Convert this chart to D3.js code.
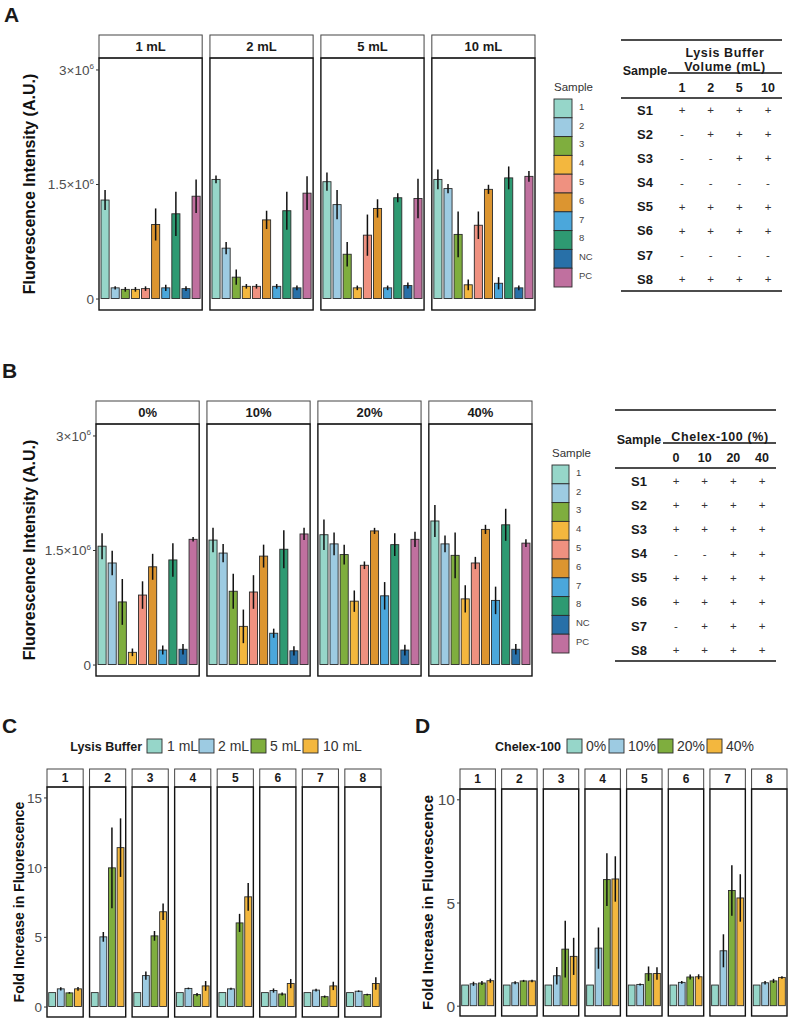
<!DOCTYPE html>
<html>
<head>
<meta charset="utf-8">
<style>
  body { margin: 0; background: #fff; }
  text { font-family: "Liberation Sans", Arial, sans-serif; }
</style>
</head>
<body>
<script src="https://cdn.jsdelivr.net/npm/d3@7"></script>
<script>
// ---- data ----
var samples = ['1', '2', '3', '4', '5', '6', '7', '8', 'NC', 'PC'];
var sampleColors = ['#96d6c9', '#9dcbe2', '#7fae3e', '#f3b73e', '#ef9180', '#dc9530', '#4ba7db', '#2e9a72', '#2870a8', '#c0709f'];

// panel A: fluorescence (x10^6) by lysis buffer volume
var volumes = ['1 mL', '2 mL', '5 mL', '10 mL'];
var volumeMeans = [
  [1.29, 0.14, 0.12, 0.12, 0.13, 0.97, 0.14, 1.11, 0.13, 1.34],
  [1.56, 0.66, 0.28, 0.16, 0.16, 1.03, 0.16, 1.15, 0.14, 1.38],
  [1.53, 1.23, 0.58, 0.14, 0.83, 1.18, 0.14, 1.32, 0.17, 1.31],
  [1.56, 1.44, 0.84, 0.18, 0.96, 1.43, 0.20, 1.58, 0.14, 1.60]
];
var volumeSds = [
  [0.13, 0.02, 0.03, 0.03, 0.03, 0.21, 0.04, 0.29, 0.03, 0.22],
  [0.05, 0.08, 0.10, 0.03, 0.03, 0.12, 0.03, 0.25, 0.03, 0.22],
  [0.12, 0.19, 0.16, 0.03, 0.27, 0.12, 0.03, 0.06, 0.04, 0.26],
  [0.13, 0.06, 0.30, 0.07, 0.18, 0.06, 0.08, 0.15, 0.03, 0.07]
];

// panel B: fluorescence (x10^6) by Chelex-100 concentration
var chelex = ['0%', '10%', '20%', '40%'];
var chelexMeans = [
  [1.55, 1.33, 0.82, 0.16, 0.91, 1.28, 0.19, 1.37, 0.20, 1.64],
  [1.63, 1.46, 0.96, 0.50, 0.95, 1.42, 0.41, 1.51, 0.18, 1.71],
  [1.70, 1.58, 1.44, 0.83, 1.30, 1.75, 0.90, 1.57, 0.19, 1.64],
  [1.88, 1.58, 1.43, 0.86, 1.33, 1.77, 0.84, 1.83, 0.20, 1.59]
];
var chelexSds = [
  [0.17, 0.16, 0.30, 0.05, 0.18, 0.17, 0.06, 0.22, 0.07, 0.03],
  [0.16, 0.12, 0.23, 0.22, 0.22, 0.15, 0.06, 0.25, 0.06, 0.08],
  [0.20, 0.15, 0.13, 0.14, 0.05, 0.04, 0.18, 0.15, 0.07, 0.10],
  [0.21, 0.11, 0.30, 0.18, 0.08, 0.06, 0.18, 0.21, 0.07, 0.05]
];
var fluorTicks = [0, 1.5, 3];
var fluorTickLabels = ['0', '1.5×10|6', '3×10|6'];

// panel C: fold increase per sample, by lysis buffer volume
var foldSamples = ['1', '2', '3', '4', '5', '6', '7', '8'];
var lysisFold = [
  [1, 1.27, 0.98, 1.27],
  [1, 5.00, 9.95, 11.4],
  [1, 2.22, 5.07, 6.80],
  [1, 1.30, 0.86, 1.48],
  [1, 1.27, 6.00, 7.87],
  [1, 1.15, 0.90, 1.65],
  [1, 1.18, 0.71, 1.48],
  [1, 1.10, 0.86, 1.65]
];
var lysisFoldSd = [
  [0, 0.12, 0.06, 0.13],
  [0, 0.35, 2.90, 2.10],
  [0, 0.30, 0.35, 0.60],
  [0, 0.06, 0.12, 0.35],
  [0, 0.07, 0.65, 1.00],
  [0, 0.15, 0.10, 0.33],
  [0, 0.10, 0.08, 0.30],
  [0, 0.06, 0.06, 0.45]
];

// panel D: fold increase per sample, by Chelex-100 concentration
var chelexFold = [
  [1, 1.06, 1.10, 1.21],
  [1, 1.11, 1.20, 1.20],
  [1, 1.45, 2.74, 2.39],
  [1, 2.79, 6.11, 6.14],
  [1, 1.03, 1.55, 1.56],
  [1, 1.13, 1.39, 1.40],
  [1, 2.66, 5.58, 5.22],
  [1, 1.11, 1.20, 1.37]
];
var chelexFoldSd = [
  [0, 0.10, 0.10, 0.10],
  [0, 0.07, 0.05, 0.06],
  [0, 0.42, 1.37, 0.90],
  [0, 1.00, 1.28, 1.10],
  [0, 0.05, 0.35, 0.30],
  [0, 0.07, 0.12, 0.12],
  [0, 0.80, 1.22, 1.15],
  [0, 0.08, 0.10, 0.06]
];

// tables
var tableRows = ['S1', 'S2', 'S3', 'S4', 'S5', 'S6', 'S7', 'S8'];
var volumeCols = ['1', '2', '5', '10'];
var volumeTable = ['++++', '-+++', '--++', '----', '++++', '++++', '----', '++++'];
var chelexCols = ['0', '10', '20', '40'];
var chelexTable = ['++++', '++++', '++++', '--++', '++++', '++++', '-+++', '++++'];

// ---- drawing ----
var svg = d3.select('body').append('svg')
  .attr('width', 788).attr('height', 1018);

function facetChart(o) {
  var fx = d3.scaleBand().domain(o.facets).range(o.xRange).paddingInner(o.pad);
  var y = d3.scaleLinear().domain(o.yDomain).range([o.panelBottom, o.stripBottom]);
  var n = o.cats.length;

  o.facets.forEach(function (f, i) {
    var g = svg.append('g').attr('transform', `translate(${fx(f)},0)`);
    var x = d3.scaleLinear().domain([0.4, n + 0.6]).range([0, fx.bandwidth()]);

    g.append('rect')
      .attr('x', 0).attr('y', o.stripTop)
      .attr('width', fx.bandwidth()).attr('height', o.stripBottom - o.stripTop)
      .attr('fill', '#fff').attr('stroke', '#444').attr('stroke-width', 1);
    g.append('text')
      .attr('x', fx.bandwidth() / 2).attr('y', (o.stripTop + o.stripBottom) / 2)
      .attr('dy', '0.36em').attr('text-anchor', 'middle')
      .attr('font-size', o.stripFont).attr('font-weight', 'bold').attr('fill', '#1a1a1a')
      .text(f);

    var rows = o.cats.map(function (c, j) {
      return { c: c, j: j, m: o.means[i][j], s: o.sds[i][j] };
    });

    g.selectAll('rect.bar').data(rows).enter().append('rect')
      .attr('class', 'bar')
      .attr('x', d => x(d.j + 0.6))
      .attr('width', x(1.8) - x(1))
      .attr('y', d => y(d.m))
      .attr('height', d => y(0) - y(d.m))
      .attr('fill', d => o.colors[d.j])
      .attr('stroke', '#2b2b2b').attr('stroke-width', 0.9);

    g.selectAll('line.err').data(rows.filter(d => d.s > 0)).enter().append('line')
      .attr('class', 'err')
      .attr('x1', d => x(d.j + 1)).attr('x2', d => x(d.j + 1))
      .attr('y1', d => y(d.m + d.s)).attr('y2', d => y(d.m - d.s))
      .attr('stroke', '#111').attr('stroke-width', 1.5);

    g.append('rect')
      .attr('x', 0).attr('y', o.stripBottom)
      .attr('width', fx.bandwidth()).attr('height', o.panelBottom - o.stripBottom)
      .attr('fill', 'none').attr('stroke', '#111').attr('stroke-width', 1.4);

    if (i === 0) {
      var ax = g.append('g')
        .call(d3.axisLeft(y).tickValues(o.ticks).tickSize(3).tickPadding(2).tickFormat(''));
      ax.select('.domain').remove();
      ax.selectAll('.tick line').attr('stroke', '#333');
      ax.selectAll('.tick').each(function (d, k) {
        var parts = o.tickLabels[k].split('|');
        var t = d3.select(this).append('text')
          .attr('x', -5).attr('dy', '0.36em').attr('text-anchor', 'end')
          .attr('font-size', o.tickFont).attr('fill', '#4d4d4d')
          .text(parts[0]);
        if (parts[1]) {
          t.append('tspan').attr('dy', -o.tickFont * 0.4).attr('font-size', o.tickFont * 0.6).text(parts[1]);
        }
      });
    }
  });

  svg.append('text')
    .attr('transform', `translate(${o.labelX},${(o.stripBottom + o.panelBottom) / 2}) rotate(-90)`)
    .attr('text-anchor', 'middle').attr('dy', '0.36em')
    .attr('font-size', o.labelFont).attr('font-weight', 'bold').attr('fill', '#111')
    .text(o.yLabel);
}

function sampleLegend(x, top, step, w) {
  svg.append('text').attr('x', x).attr('y', top - 8)
    .attr('font-size', 11.5).attr('fill', '#333').text('Sample');
  var ly = d3.scaleBand().domain(samples).range([top, top + step * samples.length]);
  var g = svg.append('g');
  g.selectAll('rect').data(samples).enter().append('rect')
    .attr('x', x).attr('y', d => ly(d))
    .attr('width', w).attr('height', ly.bandwidth())
    .attr('fill', (d, i) => sampleColors[i]).attr('stroke', '#2b2b2b').attr('stroke-width', 0.9);
  g.selectAll('text').data(samples).enter().append('text')
    .attr('x', x + w + 7).attr('y', d => ly(d) + ly.bandwidth() / 2 - 2)
    .attr('dy', '0.36em').attr('font-size', 9.5).attr('fill', '#444').text(d => d);
}

function flatLegend(title, titleEnd, y, items, keyXs, labelXs) {
  svg.append('text').attr('x', titleEnd).attr('y', y).attr('dy', '0.36em')
    .attr('text-anchor', 'end').attr('font-size', 12.5).attr('font-weight', 'bold')
    .attr('fill', '#1a1a1a').text(title);
  items.forEach(function (it, i) {
    svg.append('rect').attr('x', keyXs[i]).attr('y', y - 7).attr('width', 15).attr('height', 14)
      .attr('fill', sampleColors[i]).attr('stroke', '#2b2b2b').attr('stroke-width', 0.9);
    svg.append('text').attr('x', labelXs[i]).attr('y', y).attr('dy', '0.36em')
      .attr('font-size', 14).attr('fill', '#333').text(it);
  });
}

function table(o) {
  var g = svg.append('g');
  var cx = d3.scalePoint().domain(o.cols).range(o.colRange);
  var ry = d3.scalePoint().domain(tableRows).range(o.rowRange);
  var line = (x1, x2, yy) => g.append('line').attr('x1', x1).attr('x2', x2)
    .attr('y1', yy).attr('y2', yy).attr('stroke', '#111').attr('stroke-width', 1.6);
  line(o.left, o.right, o.topY);
  line(o.groupLeft, o.right, o.groupLine);
  line(o.left, o.right, o.headLine);
  line(o.left, o.right, o.bottomY);
  o.groupTitle.forEach(function (t, k) {
    g.append('text').attr('x', o.groupX).attr('y', o.groupY[k]).attr('dy', '0.36em')
      .attr('text-anchor', 'middle').attr('font-size', 12.5).attr('font-weight', 'bold')
      .attr('letter-spacing', 0.6).attr('fill', '#1a1a1a').text(t);
  });
  g.append('text').attr('x', o.rowX).attr('y', o.sampleY).attr('dy', '0.36em')
    .attr('text-anchor', 'middle').attr('font-size', 12.5).attr('font-weight', 'bold')
    .attr('fill', '#1a1a1a').text('Sample');
  g.selectAll('text.col').data(o.cols).enter().append('text').attr('class', 'col')
    .attr('x', d => cx(d)).attr('y', o.colY).attr('dy', '0.36em').attr('text-anchor', 'middle')
    .attr('font-size', 12.5).attr('font-weight', 'bold').attr('fill', '#1a1a1a').text(d => d);
  tableRows.forEach(function (r, i) {
    g.append('text').attr('x', o.rowX).attr('y', ry(r)).attr('dy', '0.36em')
      .attr('text-anchor', 'middle').attr('font-size', 13).attr('font-weight', 'bold')
      .attr('fill', '#1a1a1a').text(r);
    o.cols.forEach(function (c, k) {
      g.append('text').attr('x', cx(c)).attr('y', ry(r)).attr('dy', '0.36em')
        .attr('text-anchor', 'middle').attr('font-size', 11.5).attr('fill', '#333')
        .text(o.marks[i][k]);
    });
  });
}

function panelLetter(t, x, y) {
  svg.append('text').attr('x', x).attr('y', y)
    .attr('font-family', 'Roboto, "Liberation Sans", sans-serif')
    .attr('font-size', 21).attr('font-weight', 'bold').attr('fill', '#1a1a1a').text(t);
}

// A
panelLetter('A', 4, 22);
facetChart({
  facets: volumes, cats: samples, colors: sampleColors, means: volumeMeans, sds: volumeSds,
  xRange: [99, 535], pad: 0.07, stripTop: 35, stripBottom: 58, panelBottom: 310,
  yDomain: [-0.15, 3.15], ticks: fluorTicks, tickLabels: fluorTickLabels, tickFont: 13.5,
  stripFont: 13, labelX: 29, labelFont: 16, yLabel: 'Fluorescence Intensity (A.U.)'
});
sampleLegend(554, 99, 18.8, 18);
table({
  cols: volumeCols, colRange: [682, 768], rowRange: [110, 279], marks: volumeTable,
  left: 621, right: 782, groupLeft: 668, topY: 40, groupLine: 73, headLine: 98, bottomY: 291,
  groupTitle: ['Lysis Buffer', 'Volume (mL)'], groupX: 725, groupY: [52, 66],
  rowX: 645, sampleY: 70, colY: 87
});

// B
panelLetter('B', 2, 378);
facetChart({
  facets: chelex, cats: samples, colors: sampleColors, means: chelexMeans, sds: chelexSds,
  xRange: [96, 532], pad: 0.07, stripTop: 401, stripBottom: 424, panelBottom: 676,
  yDomain: [-0.15, 3.15], ticks: fluorTicks, tickLabels: fluorTickLabels, tickFont: 13.5,
  stripFont: 13, labelX: 29, labelFont: 16, yLabel: 'Fluorescence Intensity (A.U.)'
});
sampleLegend(552, 465, 18.8, 17);
table({
  cols: chelexCols, colRange: [676, 762], rowRange: [481, 650], marks: chelexTable,
  left: 615, right: 776, groupLeft: 663, topY: 410, groupLine: 443, headLine: 468, bottomY: 661,
  groupTitle: ['Chelex-100 (%)'], groupX: 720, groupY: [436],
  rowX: 639, sampleY: 439, colY: 457
});

// C
panelLetter('C', 2, 733);
flatLegend('Lysis Buffer', 142, 746, volumes, [147, 199, 251, 303], [167, 218, 270, 323]);
facetChart({
  facets: foldSamples, cats: volumes, colors: sampleColors, means: lysisFold, sds: lysisFoldSd,
  xRange: [47, 381], pad: 0.15, stripTop: 769, stripBottom: 787, panelBottom: 1017,
  yDomain: [-0.75, 15.75], ticks: [0, 5, 10, 15], tickLabels: ['0', '5', '10', '15'], tickFont: 13.5,
  stripFont: 12, labelX: 19, labelFont: 14, yLabel: 'Fold Increase in Fluorescence'
});

// D
panelLetter('D', 415, 733);
flatLegend('Chelex-100', 561, 746, chelex, [567, 609, 658, 707], [586, 628, 677, 726]);
facetChart({
  facets: foldSamples, cats: chelex, colors: sampleColors, means: chelexFold, sds: chelexFoldSd,
  xRange: [460, 787], pad: 0.15, stripTop: 769, stripBottom: 789, panelBottom: 1016,
  yDomain: [-0.5, 10.5], ticks: [0, 5, 10], tickLabels: ['0', '5', '10'], tickFont: 15.5,
  stripFont: 12, labelX: 428, labelFont: 15, yLabel: 'Fold Increase in Fluorescence'
});
</script>
</body>
</html>
